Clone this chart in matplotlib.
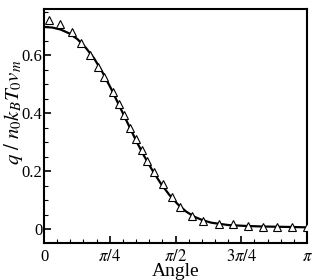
import matplotlib
matplotlib.use("Agg")
import matplotlib.pyplot as plt
import numpy as np
from matplotlib.ticker import MultipleLocator

plt.rcParams['font.family'] = ['Liberation Serif', 'DejaVu Serif']
plt.rcParams['mathtext.fontset'] = 'stix'

# Data: simulation (triangles)
sim_x = [0.056, 0.191, 0.338, 0.442, 0.549, 0.649, 0.717, 0.824, 0.896, 0.959,
         1.027, 1.099, 1.167, 1.236, 1.314, 1.418, 1.525, 1.624, 1.764, 1.903,
         2.090, 2.261, 2.440, 2.612, 2.787, 2.959, 3.138]
sim_y = [0.721, 0.707, 0.680, 0.640, 0.600, 0.558, 0.523, 0.472, 0.431, 0.394,
         0.349, 0.311, 0.272, 0.234, 0.198, 0.154, 0.111, 0.075, 0.046, 0.029,
         0.017, 0.016, 0.011, 0.008, 0.008, 0.006, 0.006]

# Data: analytical curve
line_x = [0.0, 0.1, 0.2, 0.3, 0.4, 0.5, 0.6, 0.7, 0.8, 0.9, 1.0, 1.1, 1.2, 1.3,
          1.4, 1.5, 1.6, 1.7, 1.8, 1.9, 2.0, 2.2, 2.4, 2.6, 2.8, 3.0, np.pi]
line_y = [0.697, 0.695, 0.688, 0.675, 0.655, 0.625, 0.588, 0.540, 0.485, 0.425,
          0.365, 0.305, 0.250, 0.200, 0.155, 0.117, 0.085, 0.060, 0.042, 0.030,
          0.022, 0.014, 0.011, 0.009, 0.008, 0.007, 0.006]

xticks = [0, np.pi / 4, np.pi / 2, 3 * np.pi / 4, np.pi]
xticklabels = ['0', r'$\pi/4$', r'$\pi/2$', r'$3\pi/4$', r'$\pi$']
yticks = [0, 0.2, 0.4, 0.6]
yticklabels = ['0', '0.2', '0.4', '0.6']

# Plot
fig = plt.figure(figsize=(3.15, 2.8), dpi=100)
ax = fig.add_axes([0.1397, 0.1321, 0.8349, 0.8358])

ax.plot(line_x, line_y, 'k-', lw=1.6, zorder=2)
ax.plot(sim_x, sim_y, '^', ms=6, mfc='white', mec='black', mew=0.8, zorder=3)

ax.set_xlim(0, np.pi)
ax.set_ylim(-0.048, 0.759)
ax.set_xticks(xticks)
ax.set_xticklabels(xticklabels)
ax.set_yticks(yticks)
ax.set_yticklabels(yticklabels)
ax.xaxis.set_minor_locator(MultipleLocator(np.pi / 20))
ax.yaxis.set_minor_locator(MultipleLocator(0.05))

ax.tick_params(which='both', direction='in', top=False, right=False, labelsize=12)
ax.tick_params(axis='y', which='major', length=5, width=1.2, pad=1)
ax.tick_params(axis='x', which='major', length=5, width=1.2, pad=4)
ax.tick_params(which='minor', length=3, width=0.8)
for s in ax.spines.values():
    s.set_linewidth(1.5)

ax.set_xlabel('Angle', fontsize=14, labelpad=-1)
ax.set_ylabel(r'$q\ /\ n_0 k_B T_0 v_m$', fontsize=15)
ax.yaxis.set_label_coords(-0.072, 0.56)

fig.savefig('out.png', dpi=100)
